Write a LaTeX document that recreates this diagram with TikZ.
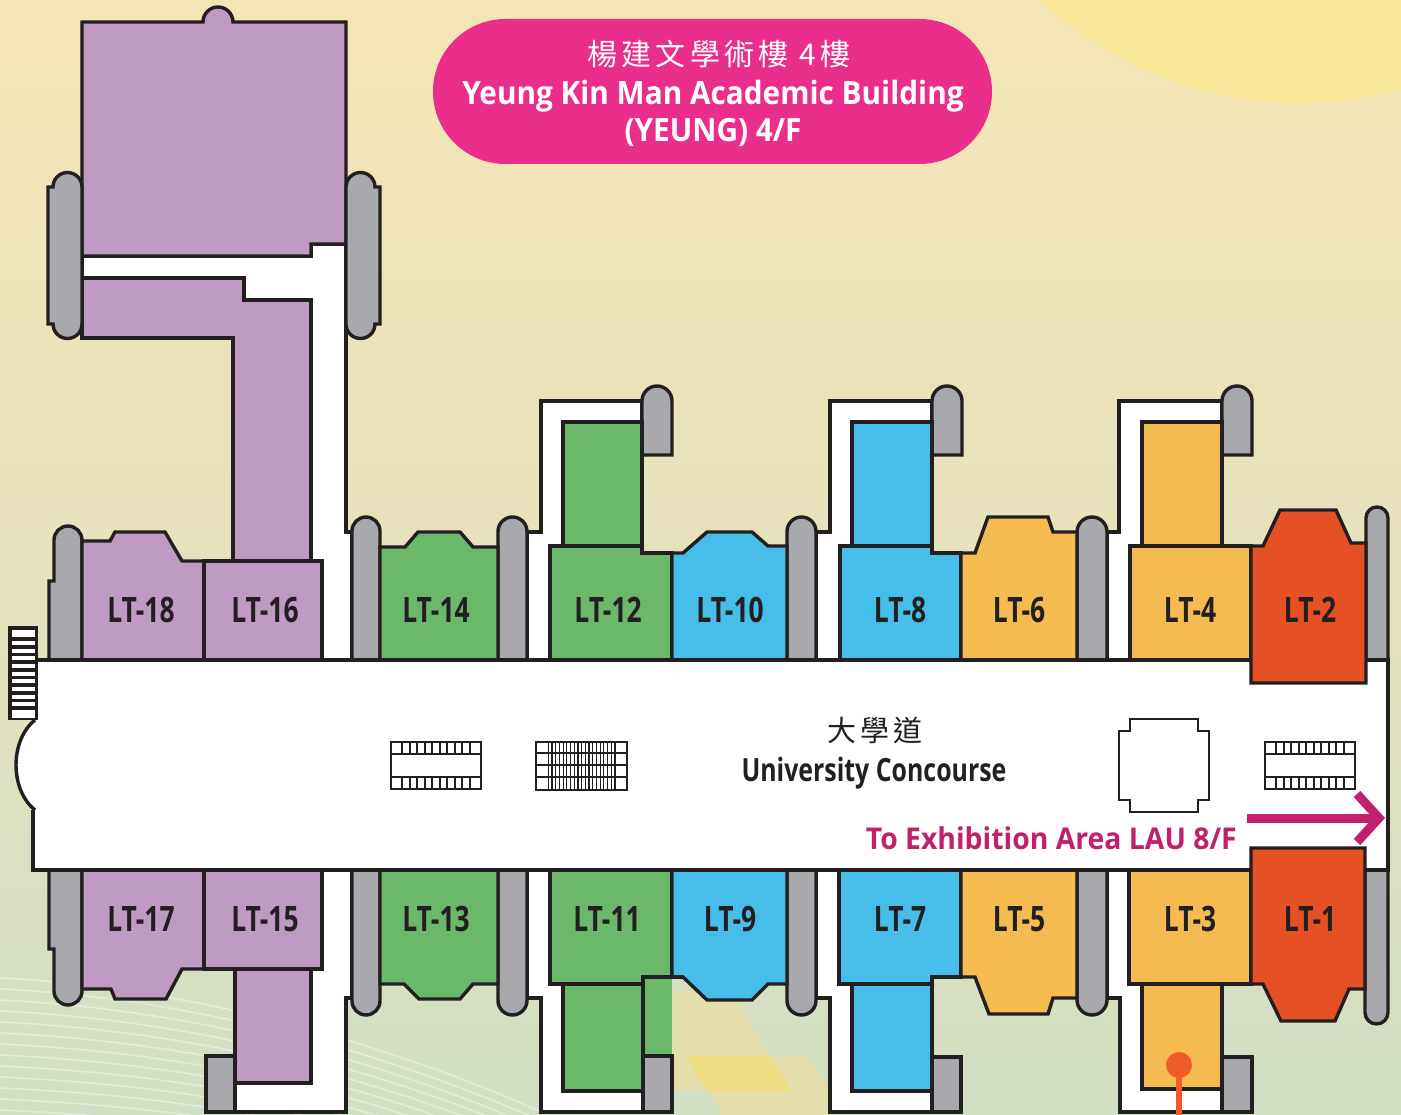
\documentclass[tikz,border=0pt]{standalone}
\usepackage{fontspec}
\setmainfont{Open Sans}
\newfontfamily\ltfont[FakeStretch=0.755]{Open Sans}
\newfontfamily\ucfont[FakeStretch=0.778]{Open Sans}
\newfontfamily\tifont[FakeStretch=0.93]{Open Sans}
\newfontfamily\exfont[FakeStretch=0.945]{Open Sans}
\newfontfamily\cjkfont[LetterSpace=14]{Noto Sans CJK TC}
\definecolor{lnk}{HTML}{231F20}
\definecolor{gry}{HTML}{A7A9AC}
\definecolor{pur}{HTML}{BF9BC4}
\definecolor{grn}{HTML}{6BB86A}
\definecolor{blu}{HTML}{47BDEA}
\definecolor{org}{HTML}{F4BC50}
\definecolor{red2}{HTML}{E55025}
\definecolor{pnk}{HTML}{E92E8B}
\definecolor{mag}{HTML}{C1206D}
\definecolor{bgA}{HTML}{F4E5B6}
\definecolor{bgB}{HTML}{E6E2BC}
\definecolor{bgC}{HTML}{D1DFC3}
\definecolor{sun}{HTML}{F8E597}
\definecolor{yl1}{HTML}{E3DEAC}
\definecolor{yl2}{HTML}{EEDD82}
\definecolor{dot}{HTML}{F15A29}
\tikzset{
  wall/.style={draw=lnk,line width=3.4pt,miter limit=10,line join=miter},
  graybox/.style={wall,fill=gry},
  whitebox/.style={wall,fill=white},
  purbox/.style={wall,fill=pur},
  grnbox/.style={wall,fill=grn},
  blubox/.style={wall,fill=blu},
  orgbox/.style={wall,fill=org},
  redbox/.style={wall,fill=red2},
  ltlabel/.style={anchor=base,inner sep=0pt,text=lnk,font=\ltfont\bfseries\fontsize{35}{35}\selectfont},
  stairline/.style={draw=lnk,line width=2pt},
  thinstair/.style={draw=lnk,line width=1.2pt},
}
\newcommand{\pillU}[3]{%
  \pgfmathsetmacro\pillR{(#2-#1)/2}\pgfmathsetmacro\pillCy{#3+\pillR}%
  \filldraw[graybox] (#1,660) -- (#1,\pillCy) arc (180:360:\pillR) -- (#2,660);}
\newcommand{\pillD}[3]{%
  \pgfmathsetmacro\pillR{(#2-#1)/2}\pgfmathsetmacro\pillCy{#3-\pillR}%
  \filldraw[graybox] (#1,870) -- (#1,\pillCy) arc (180:0:\pillR) -- (#2,870);}
\newcommand{\grayTop}[3]{%
  \pgfmathsetmacro\pillR{(#2-#1)/2}\pgfmathsetmacro\pillCy{#3+\pillR}%
  \filldraw[graybox] (#1,455) -- (#1,\pillCy) arc (180:360:\pillR) -- (#2,455) -- cycle;}
\begin{document}
\begin{tikzpicture}[x=1pt,y=-1pt]
\useasboundingbox (0,0) rectangle (1401,1115);
\begin{scope}
\clip (0,0) rectangle (1401,1115);
% background
\shade[top color=bgA,bottom color=bgC,middle color=bgB] (0,0) rectangle (1401,1115);
\fill[sun] (1300,-277) circle[radius=380];
% curved background bands
\foreach \i in {0,...,13}{
  \draw[white,opacity=.4,line width=1.6pt] (0,978+\i*11) .. controls (150,985+\i*11) and (350,1025+\i*9) .. (560,1120+\i*9);
}
% floor tint
\fill[yl1] (672,991) -- (732,991) -- (770,1056) -- (808,1056) -- (830,1090) -- (830,1115) -- (722,1115) -- (708,1091) -- (672,1091) -- cycle;
\fill[yl2] (685,1056) -- (770,1056) -- (792,1091) -- (708,1091) -- cycle;
\end{scope}

% title
\fill[pnk] (505.5,19) -- (919.5,19) arc (-90:90:72.5) -- (505.5,164) arc (90:270:72.5) -- cycle;
\node[anchor=base,inner sep=0pt,text=white,font=\cjkfont\fontsize{30}{30}\selectfont] (titlezh) at (719,66) {楊建文學術樓 4樓};
\node[anchor=base,inner sep=0pt,text=white,font=\tifont\bfseries\fontsize{32}{32}\selectfont] (titleen) at (713,105) {Yeung Kin Man Academic Building};
\node[anchor=base,inner sep=0pt,text=white,font=\tifont\bfseries\fontsize{32}{32}\selectfont] (titlefl) at (713,142) {(YEUNG) 4/F};

% white circulation, upper
\filldraw[whitebox] (82,256) -- (311,256) -- (311,244) -- (346,244) -- (346,532) -- (352,532) -- (352,660) -- (322,660) -- (322,561) -- (311,561) -- (311,300) -- (244,300) -- (244,278) -- (82,278) -- cycle;
\filldraw[whitebox] (527,532) -- (541,532) -- (541,401) -- (642,401) -- (642,422) -- (563,422) -- (563,546) -- (550,546) -- (550,660) -- (527,660) -- cycle;
\filldraw[whitebox] (816,532) -- (830,532) -- (830,401) -- (932,401) -- (932,422) -- (852,422) -- (852,546) -- (840,546) -- (840,660) -- (816,660) -- cycle;
\filldraw[whitebox] (1107,532) -- (1119,532) -- (1119,401) -- (1222,401) -- (1222,422) -- (1142,422) -- (1142,546) -- (1130,546) -- (1130,660) -- (1107,660) -- cycle;
% white circulation, lower
\filldraw[whitebox] (322,870) -- (352,870) -- (352,998) -- (346,998) -- (346,1112) -- (235,1112) -- (235,1083) -- (311,1083) -- (311,969) -- (322,969) -- cycle;
\filldraw[whitebox] (527,870) -- (550,870) -- (550,984) -- (563,984) -- (563,1091) -- (643,1091) -- (643,1112) -- (541,1112) -- (541,998) -- (527,998) -- cycle;
\filldraw[whitebox] (816,870) -- (839,870) -- (839,984) -- (852,984) -- (852,1091) -- (932,1091) -- (932,1112) -- (830,1112) -- (830,998) -- (816,998) -- cycle;
\filldraw[whitebox] (1107,870) -- (1129,870) -- (1129,984) -- (1142,984) -- (1142,1089) -- (1222,1089) -- (1222,1112) -- (1120,1112) -- (1120,998) -- (1107,998) -- cycle;

% corridor
\fill[white] (37,660) -- (1388,660) -- (1388,870) -- (33,870) -- (33,810) -- (35,810) .. controls (9.7,790) and (9.7,740) .. (35,720) -- (37,720) -- cycle;
\draw[wall] (35,810) .. controls (9.7,790) and (9.7,740) .. (35,720);

% purple tower
\filldraw[purbox] (82,256) -- (82,22) -- (203,22) arc (180:360:15) -- (346,22) -- (346,244) -- (311,244) -- (311,256) -- cycle;
\filldraw[purbox] (82,278) -- (244,278) -- (244,300) -- (311,300) -- (311,561) -- (233,561) -- (233,338) -- (82,338) -- cycle;
% side pills of tower
\filldraw[graybox] (82,187) arc (0:-180:14.5) -- (48,187) -- (48,324) -- (53,324) arc (180:0:14.5) -- cycle;
\filldraw[graybox] (346,187) arc (180:360:14.5) -- (380,187) -- (380,324) -- (375,324) arc (0:180:14.5) -- cycle;

% upper pills
\filldraw[graybox] (49,660) -- (49,581) -- (54,581) -- (54,540) arc (180:360:14) -- (82,660);
\pillU{352}{380}{517}
\pillU{498}{527}{517}
\pillU{787}{816}{517}
\pillU{1077}{1107}{517}
\pillU{1366}{1388}{507}
\grayTop{642}{672}{386}
\grayTop{932}{962}{386}
\grayTop{1222}{1252}{386}

% upper rooms
\filldraw[purbox] (82,660) -- (82,541) -- (110,541) -- (115,532) -- (165,532) -- (182,561) -- (204,561) -- (204,660) -- cycle;
\filldraw[purbox] (204,561) -- (322,561) -- (322,660) -- (204,660) -- cycle;
\filldraw[grnbox] (380,660) -- (380,547) -- (405,547) -- (418,532) -- (460,532) -- (473,547) -- (498,547) -- (498,660) -- cycle;
\filldraw[grnbox] (563,546) -- (563,422) -- (642,422) -- (642,546) -- cycle;
\filldraw[grnbox] (550,660) -- (550,546) -- (642,546) -- (642,553) -- (672,553) -- (672,660) -- cycle;
\filldraw[blubox] (672,660) -- (672,553) -- (683,553) -- (707,532) -- (752,532) -- (768,546) -- (787,546) -- (787,660) -- cycle;
\filldraw[blubox] (852,546) -- (852,422) -- (932,422) -- (932,546) -- cycle;
\filldraw[blubox] (840,660) -- (840,546) -- (932,546) -- (932,553) -- (961,553) -- (961,660) -- cycle;
\filldraw[orgbox] (961,660) -- (961,553) -- (975,553) -- (988,517) -- (1048,517) -- (1053,532) -- (1077,532) -- (1077,660) -- cycle;
\filldraw[orgbox] (1142,546) -- (1142,422) -- (1222,422) -- (1222,546) -- cycle;
\filldraw[orgbox] (1130,660) -- (1130,546) -- (1251,546) -- (1251,660) -- cycle;

% lower pills
\filldraw[graybox] (49,870) -- (49,949) -- (54,949) -- (54,991) arc (180:0:14) -- (82,870);
\pillD{352}{380}{1015}
\pillD{498}{527}{1015}
\pillD{787}{816}{1015}
\pillD{1077}{1107}{1015}
\pillD{1365}{1388}{1024}

% lower rooms
\filldraw[purbox] (235,969) -- (311,969) -- (311,1083) -- (235,1083) -- cycle;
\filldraw[graybox] (206,1056) -- (235,1056) -- (235,1112) -- (206,1112) -- cycle;
\filldraw[purbox] (82,870) -- (82,989) -- (111,989) -- (115,999) -- (166,999) -- (182,969) -- (204,969) -- (204,870) -- cycle;
\filldraw[purbox] (204,870) -- (322,870) -- (322,969) -- (204,969) -- cycle;
\filldraw[grnbox] (380,870) -- (380,984) -- (404,984) -- (419,999) -- (460,999) -- (473,984) -- (498,984) -- (498,870) -- cycle;
\fill[grn] (643,977) rectangle (672,1056);
\filldraw[grnbox] (563,984) -- (643,984) -- (643,1091) -- (563,1091) -- cycle;
\filldraw[grnbox] (550,870) -- (550,984) -- (643,984) -- (643,977) -- (672,977) -- (672,870) -- cycle;
\filldraw[blubox] (672,870) -- (672,977) -- (683,977) -- (707,1000) -- (752,1000) -- (768,984) -- (787,984) -- (787,870) -- cycle;
\draw[wall] (643,977) -- (683,977);
\draw[wall] (643,977) -- (643,1056);
\filldraw[graybox] (643,1056) -- (672,1056) -- (672,1112) -- (643,1112) -- cycle;
\filldraw[blubox] (852,984) -- (932,984) -- (932,1091) -- (852,1091) -- cycle;
\filldraw[blubox] (839,870) -- (839,984) -- (932,984) -- (932,977) -- (961,977) -- (961,870) -- cycle;
\filldraw[graybox] (932,1057) -- (961,1057) -- (961,1112) -- (932,1112) -- cycle;
\filldraw[orgbox] (961,870) -- (961,977) -- (975,977) -- (989,1014) -- (1048,1014) -- (1053,998) -- (1077,998) -- (1077,870) -- cycle;
\filldraw[orgbox] (1142,984) -- (1222,984) -- (1222,1089) -- (1142,1089) -- cycle;
\filldraw[orgbox] (1129,870) -- (1129,984) -- (1251,984) -- (1251,870) -- cycle;
\filldraw[graybox] (1222,1057) -- (1252,1057) -- (1252,1112) -- (1222,1112) -- cycle;

% corridor outline, drawn across the room ends
\draw[wall] (37,660) -- (1251,660);
\draw[wall] (1366,660) -- (1388,660) -- (1388,870) -- (1365,870);
\draw[wall] (1251,870) -- (33,870) -- (33,810);

% LT-2 and LT-1 project into the corridor
\filldraw[redbox] (1251,683) -- (1251,546) -- (1263,546) -- (1280,510) -- (1336,510) -- (1351,543) -- (1366,543) -- (1366,683) -- cycle;
\filldraw[redbox] (1251,848) -- (1365,848) -- (1365,989) -- (1349,989) -- (1335,1021) -- (1281,1021) -- (1263,984) -- (1251,984) -- cycle;

% orange marker
\draw[dot,line width=6pt] (1179,1065) -- (1179,1115);
\fill[dot] (1179,1065) circle[radius=13];

% staircase at the left end
\fill[lnk] (8,626) rectangle (38,720);
\fill[white] (11.5,629.5) rectangle (35,637);
\foreach \y in {641,648.7,656.3,664,671.7,679.3,687,694.7,702.3}{
  \fill[white] (11.5,\y) rectangle (35,\y+4);
}
\fill[white] (11.5,709.7) rectangle (35,717.5);

% stair glyphs
\foreach \xo in {391,1265}{
  \draw[stairline] (\xo,742) rectangle (\xo+90,789);
  \draw[stairline] (\xo,754) -- (\xo+90,754);
  \draw[stairline] (\xo,777) -- (\xo+90,777);
  \foreach \k in {0,...,9}{
    \draw[stairline] (\xo+11+\k*7.5,742) -- (\xo+11+\k*7.5,754);
    \draw[stairline] (\xo+11+\k*7.5,777) -- (\xo+11+\k*7.5,789);
  }
}
\draw[thinstair] (536,742) rectangle (627,790);
\foreach \y in {753,765,777}{\draw[thinstair] (536,\y) -- (627,\y);}
\foreach \k in {0,...,18}{\draw[thinstair] (548.3+\k*3.7,742) -- (548.3+\k*3.7,790);}

% notched square
\draw[draw=lnk,line width=2pt] (1130,719) -- (1198,719) -- (1198,731) -- (1209,731) -- (1209,800) -- (1198,800) -- (1198,812) -- (1130,812) -- (1130,800) -- (1119,800) -- (1119,731) -- (1130,731) -- cycle;

% arrow
\coordinate (arrowtail) at (1247,818);
\coordinate (arrowtip) at (1379,818);
\draw[mag,line width=9pt] (arrowtail) -- (arrowtip);
\draw[mag,line width=9pt,miter limit=10] (1357,794) -- (1379,818) -- (1357,842);

% texts
\node[anchor=base,inner sep=0pt,text=lnk,font=\cjkfont\fontsize{29}{29}\selectfont] (conczh) at (875,741) {大學道};
\node[anchor=base,inner sep=0pt,text=lnk,font=\ucfont\bfseries\fontsize{32}{32}\selectfont] (concen) at (874,781) {University Concourse};
\node[anchor=base east,inner sep=0pt,text=mag,font=\exfont\bfseries\fontsize{30}{30}\selectfont] (toexh) at (1237,849) {To Exhibition Area LAU 8/F};

\node[ltlabel] (lt18) at (141,622) {LT-18};
\node[ltlabel] (lt16) at (265,622) {LT-16};
\node[ltlabel] (lt14) at (436,622) {LT-14};
\node[ltlabel] (lt12) at (608,622) {LT-12};
\node[ltlabel] (lt10) at (730,622) {LT-10};
\node[ltlabel] (lt8) at (900,622) {LT-8};
\node[ltlabel] (lt6) at (1019,622) {LT-6};
\node[ltlabel] (lt4) at (1190,622) {LT-4};
\node[ltlabel] (lt2) at (1310,622) {LT-2};
\node[ltlabel] (lt17) at (141,931) {LT-17};
\node[ltlabel] (lt15) at (265,931) {LT-15};
\node[ltlabel] (lt13) at (436,931) {LT-13};
\node[ltlabel] (lt11) at (607,931) {LT-11};
\node[ltlabel] (lt9) at (730,931) {LT-9};
\node[ltlabel] (lt7) at (900,931) {LT-7};
\node[ltlabel] (lt5) at (1019,931) {LT-5};
\node[ltlabel] (lt3) at (1190,931) {LT-3};
\node[ltlabel] (lt1) at (1310,931) {LT-1};
\end{tikzpicture}
\end{document}
